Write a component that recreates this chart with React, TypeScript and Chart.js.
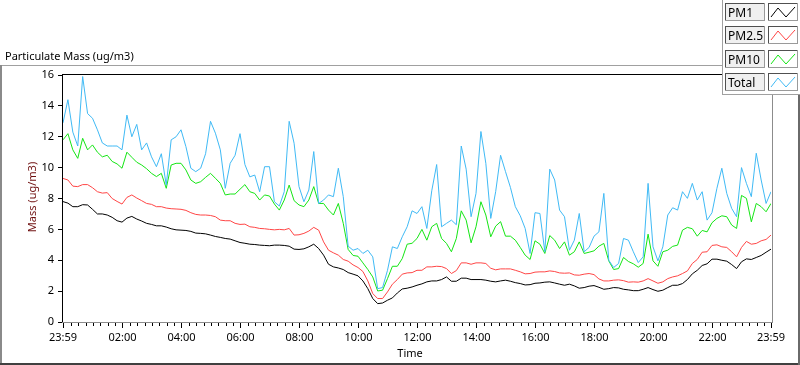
import React, { useEffect, useRef } from 'react';
import { Chart, registerables } from 'chart.js';

Chart.register(...registerables);

// ---- data (minutes since 23:59 of previous day, one sample every 10 min) ----
const STEP_MIN = 10;
const SERIES_NAMES = ['PM1', 'PM2.5', 'PM10', 'Total'];
const SERIES_COLORS = ['#000000', '#ff4646', '#14e614', '#40baf5'];

const TICK_MINUTES = [0, 121, 241, 361, 481, 601, 721, 841, 961, 1081, 1201, 1321, 1440];
const TICK_LABELS = ['23:59', '02:00', '04:00', '06:00', '08:00', '10:00', '12:00', '14:00', '16:00', '18:00', '20:00', '22:00', '23:59'];
const Y_MIN = 0;
const Y_MAX = 16;
const Y_STEP = 2;

const PM1 = [
  7.8, 7.7, 7.47, 7.47, 7.6, 7.58, 7.3, 7.0, 7.0, 6.93, 6.78, 6.56, 6.47, 6.73, 6.84, 6.67, 6.54, 6.39, 6.32, 6.23,
  6.23, 6.15, 6.04, 5.97, 5.95, 5.93, 5.87, 5.76, 5.74, 5.71, 5.63, 5.54, 5.48, 5.41, 5.37, 5.26, 5.15, 5.1, 5.04, 5.02,
  4.98, 4.96, 4.94, 4.98, 4.98, 4.96, 4.91, 4.72, 4.7, 4.74, 4.87, 5.04, 4.76, 4.33, 3.74, 3.57, 3.5, 3.4, 3.2, 3.1,
  2.99, 2.66, 2.16, 1.52, 1.19, 1.23, 1.41, 1.56, 1.88, 2.14, 2.19, 2.27, 2.38, 2.47, 2.6, 2.66, 2.66, 2.75, 2.92, 2.64,
  2.64, 2.84, 2.84, 2.75, 2.75, 2.75, 2.71, 2.64, 2.6, 2.66, 2.71, 2.64, 2.55, 2.49, 2.4, 2.42, 2.51, 2.53, 2.58, 2.6,
  2.53, 2.45, 2.38, 2.45, 2.34, 2.19, 2.23, 2.32, 2.36, 2.25, 2.12, 2.16, 2.23, 2.21, 2.12, 2.08, 2.03, 2.03, 2.12, 2.23,
  2.1, 1.99, 2.06, 2.23, 2.38, 2.38, 2.49, 2.75, 3.12, 3.35, 3.66, 3.77, 4.07, 4.07, 4.0, 3.94, 3.72, 3.46, 3.9, 4.09,
  4.05, 4.18, 4.31, 4.52, 4.72,
];

const PM25 = [
  9.3, 9.2, 8.8, 8.77, 8.9, 8.9, 8.7, 8.44, 8.35, 8.38, 8.0, 7.81, 7.64, 8.07, 8.23, 8.03, 7.86, 7.68, 7.62, 7.47,
  7.47, 7.38, 7.34, 7.32, 7.3, 7.23, 7.08, 6.97, 6.93, 6.93, 6.9, 6.82, 6.6, 6.56, 6.56, 6.39, 6.32, 6.34, 6.17, 6.13,
  6.06, 6.04, 6.0, 5.97, 6.0, 5.97, 6.06, 5.63, 5.65, 5.74, 5.89, 6.13, 5.95, 5.19, 4.65, 4.48, 4.33, 4.05, 3.94, 3.7,
  3.53, 3.27, 2.66, 1.84, 1.52, 1.52, 1.95, 2.45, 2.75, 3.1, 3.18, 3.2, 3.35, 3.35, 3.57, 3.57, 3.61, 3.59, 3.46, 3.14,
  3.33, 3.83, 3.83, 3.74, 3.83, 3.83, 3.79, 3.48, 3.38, 3.44, 3.44, 3.44, 3.35, 3.25, 3.12, 3.14, 3.23, 3.25, 3.25, 3.31,
  3.27, 3.18, 3.16, 3.18, 3.05, 3.03, 3.1, 3.14, 3.07, 2.79, 2.66, 2.66, 2.71, 2.73, 2.68, 2.58, 2.6, 2.58, 2.66, 2.81,
  2.66, 2.51, 2.6, 2.81, 2.92, 2.99, 3.14, 3.31, 3.79, 4.05, 4.52, 4.55, 4.96, 5.0, 4.87, 4.83, 4.55, 4.22, 4.83, 5.22,
  5.04, 5.09, 5.26, 5.35, 5.63,
];

const PM10 = [
  11.8, 12.2, 11.15, 10.6, 11.9, 11.15, 11.47, 11.0, 10.7, 10.8, 10.4, 10.24, 9.96, 11.0, 10.67, 10.35, 10.17, 9.93, 9.63, 9.42,
  9.63, 8.66, 10.17, 10.28, 10.28, 9.85, 9.2, 8.98, 9.09, 9.37, 9.63, 9.31, 8.98, 8.23, 8.29, 8.29, 8.6, 8.9, 8.44, 8.33,
  7.9, 8.23, 8.16, 7.64, 7.25, 7.9, 8.87, 7.86, 7.58, 7.47, 7.9, 8.77, 7.68, 7.68, 7.25, 6.93, 7.68, 6.39, 4.7, 4.31,
  4.26, 3.83, 3.4, 2.92, 2.01, 2.06, 2.81, 3.61, 3.61, 4.11, 5.04, 5.1, 5.41, 6.0, 5.3, 6.17, 6.39, 5.41, 5.09, 4.55,
  5.41, 7.2, 6.6, 5.13, 6.17, 7.79, 6.93, 5.52, 6.21, 6.5, 5.56, 5.56, 5.3, 4.83, 4.33, 4.05, 5.26, 5.04, 4.44, 5.6,
  5.3, 4.76, 5.19, 4.33, 4.55, 5.19, 4.44, 4.52, 4.61, 4.91, 5.09, 3.96, 3.4, 3.46, 4.18, 3.92, 3.77, 3.55, 3.79, 5.69,
  3.96, 3.61, 4.55, 4.65, 4.9, 4.98, 5.95, 6.13, 6.04, 5.56, 5.93, 5.84, 6.43, 6.71, 6.88, 6.82, 6.28, 6.06, 8.2, 8.01,
  6.49, 7.68, 7.47, 7.14, 7.68,
];

const TOTAL = [
  12.9, 14.4, 12.3, 11.4, 15.9, 13.5, 13.2, 12.45, 11.6, 11.4, 11.4, 11.4, 11.15, 13.4, 12.0, 12.8, 11.15, 11.6, 10.7, 10.06,
  10.9, 8.87, 11.8, 12.0, 12.45, 11.36, 9.96, 9.74, 9.96, 10.9, 13.0, 12.23, 11.15, 8.66, 10.28, 10.8, 12.2, 10.2, 9.4, 9.52,
  8.44, 10.06, 10.06, 7.79, 7.51, 8.44, 13.0, 11.58, 8.77, 7.79, 8.55, 11.04, 7.68, 7.9, 8.23, 8.12, 9.96, 8.12, 4.91, 4.65,
  4.76, 4.44, 4.65, 4.22, 2.16, 2.23, 3.35, 4.87, 4.76, 5.52, 6.17, 7.2, 7.03, 7.47, 6.06, 8.5, 10.2, 6.17, 6.39, 6.6,
  6.3, 11.4, 9.9, 6.82, 8.33, 12.34, 10.28, 6.71, 8.44, 10.8, 9.74, 8.72, 7.47, 6.88, 6.06, 4.44, 7.08, 7.03, 4.55, 9.9,
  9.2, 7.25, 6.82, 4.65, 5.3, 7.03, 4.55, 4.83, 5.56, 5.84, 8.33, 4.0, 3.53, 3.79, 5.41, 5.3, 4.55, 3.85, 4.22, 8.98,
  4.87, 3.96, 4.87, 6.93, 7.4, 7.25, 8.44, 8.01, 8.98, 7.9, 8.44, 6.6, 7.08, 8.66, 9.96, 8.33, 7.36, 6.82, 10.0, 8.98,
  8.12, 10.93, 9.2, 7.68, 8.44,
];

const SERIES = [PM1, PM25, PM10, TOTAL];

// ---- styling ----
const FONT = '"Segoe UI", "Noto Sans", "Open Sans", sans-serif';
const FONT_SIZE = 11;

const framePlugin = {
  id: 'labviewFrame',
  beforeDraw(chart: any) {
    const ctx = chart.ctx;
    ctx.save();
    ctx.fillStyle = '#ffffff';
    ctx.fillRect(0, 0, chart.width, chart.height);
    ctx.restore();
  },
  afterDraw(chart: any) {
    const ctx: CanvasRenderingContext2D = chart.ctx;
    const a = chart.chartArea;
    const xs = chart.scales.x;
    const line = (c: string, x1: number, y1: number, x2: number, y2: number, w = 1) => {
      ctx.strokeStyle = c;
      ctx.lineWidth = w;
      ctx.beginPath();
      ctx.moveTo(x1, y1);
      ctx.lineTo(x2, y2);
      ctx.stroke();
    };
    ctx.save();

    // outer panel frame
    line('#a0a0a0', 0, 65.5, 722, 65.5);
    line('#8a8a8a', 1, 65, 1, 365, 2);
    line('#404040', 0, 364, 800, 364, 2);
    line('#6a6a6a', 799, 95, 799, 365, 2);

    // plot area frame
    line('#000000', a.left - 1, a.top - 0.5, 722, a.top - 0.5);
    line('#000000', a.left - 0.5, a.top - 1, a.left - 0.5, a.bottom + 1);
    line('#8c8c8c', a.left - 1, a.bottom + 0.5, a.right + 2, a.bottom + 0.5);
    line('#8c8c8c', a.right + 1.5, 95, a.right + 1.5, a.bottom + 1);

    // x tick marks: majors + 15-minute minors
    for (const m of TICK_MINUTES) {
      const px = Math.round(xs.getPixelForValue(m)) + 0.5;
      line('#000000', px, a.bottom + 1, px, a.bottom + 6);
    }
    for (let k = 1; k < 96; k++) {
      if (k % 8 === 0) continue;
      const m = 1 + 15 * k;
      const px = Math.round(xs.getPixelForValue(m)) + 0.5;
      line('#000000', px, a.bottom + 1, px, a.bottom + 4);
    }

    // titles
    ctx.font = `${FONT_SIZE}px ${FONT}`;
    ctx.fillStyle = '#000000';
    ctx.textAlign = 'left';
    ctx.textBaseline = 'alphabetic';
    ctx.fillText('Particulate Mass (ug/m3)', 5, 59.5);

    ctx.textAlign = 'center';
    ctx.fillText('Time', 410, 357);

    ctx.save();
    ctx.translate(36, 197);
    ctx.rotate(-Math.PI / 2);
    ctx.fillStyle = '#6e0e0e';
    ctx.fillText('Mass (ug/m3)', 0, 0);
    ctx.restore();

    // legend panel
    ctx.fillStyle = '#ffffff';
    ctx.fillRect(722, 0, 78, 94);
    line('#a0a0a0', 722.5, 0, 722.5, 95);
    line('#a0a0a0', 722, 94.5, 800, 94.5);
    const tops = [3, 26, 50, 73];
    ctx.font = `${FONT_SIZE + 1}px ${FONT}`;
    SERIES_NAMES.forEach((name, r) => {
      const y = tops[r];
      // label box
      ctx.fillStyle = '#f0f0f0';
      ctx.fillRect(725, y, 40, 18);
      line('#505050', 725, y + 0.5, 765, y + 0.5);
      line('#505050', 725.5, y, 725.5, y + 18);
      line('#9a9a9a', 725, y + 17.5, 765, y + 17.5);
      line('#9a9a9a', 764.5, y, 764.5, y + 18);
      ctx.fillStyle = '#000000';
      ctx.textAlign = 'left';
      ctx.textBaseline = 'alphabetic';
      ctx.fillText(name, 728, y + 14);
      // sample box
      ctx.fillStyle = '#ffffff';
      ctx.fillRect(768, y, 30, 18);
      line('#505050', 768, y + 0.5, 798, y + 0.5);
      line('#505050', 768.5, y, 768.5, y + 18);
      line('#9a9a9a', 768, y + 17.5, 798, y + 17.5);
      line('#9a9a9a', 797.5, y, 797.5, y + 18);
      ctx.strokeStyle = SERIES_COLORS[r];
      ctx.lineWidth = 1;
      ctx.beginPath();
      ctx.moveTo(771, y + 14);
      ctx.lineTo(778, y + 5);
      ctx.lineTo(786, y + 14);
      ctx.lineTo(795, y + 4);
      ctx.stroke();
    });

    ctx.restore();
  },
};

export default function App() {
  const canvasRef = useRef<HTMLCanvasElement | null>(null);

  useEffect(() => {
    const canvas = canvasRef.current;
    if (!canvas) return;
    const datasets = SERIES.map((vals, s) => ({
      label: SERIES_NAMES[s],
      data: vals.map((v, i) => ({ x: i * STEP_MIN, y: v })),
      borderColor: SERIES_COLORS[s],
      backgroundColor: SERIES_COLORS[s],
      borderWidth: 1,
      pointRadius: 0,
      tension: 0,
      fill: false,
      order: 3 - s,
    }));

    const chart = new Chart(canvas, {
      type: 'line',
      data: { datasets },
      options: {
        animation: false,
        responsive: false,
        devicePixelRatio: 1,
        layout: { padding: { top: 75, right: 29, left: 0, bottom: 0 } },
        plugins: { legend: { display: false }, tooltip: { enabled: false }, title: { display: false } },
        scales: {
          x: {
            type: 'linear',
            min: 0,
            max: 1440,
            afterBuildTicks: (s: any) => {
              s.ticks = TICK_MINUTES.map((v) => ({ value: v }));
            },
            afterFit: (s: any) => {
              s.height = 43;
            },
            ticks: {
              autoSkip: false,
              maxRotation: 0,
              padding: 1,
              color: '#000000',
              font: { family: FONT, size: FONT_SIZE },
              callback: (_v: any, i: number) => TICK_LABELS[i] ?? '',
            },
            grid: { display: false },
            border: { display: false },
          },
          y: {
            min: Y_MIN,
            max: Y_MAX,
            afterFit: (s: any) => {
              s.width = 63;
            },
            ticks: {
              stepSize: Y_STEP,
              padding: 4,
              color: '#000000',
              font: { family: FONT, size: FONT_SIZE },
            },
            grid: { drawOnChartArea: false, drawTicks: true, tickLength: 5, color: '#000000' },
            border: { display: false },
          },
        },
      } as any,
      plugins: [framePlugin],
    });

    return () => chart.destroy();
  }, []);

  return (
    <div style={{ position: 'fixed', left: 0, top: 0, width: 800, height: 365, background: '#ffffff' }}>
      <canvas ref={canvasRef} width={800} height={365} style={{ display: 'block' }} />
    </div>
  );
}
